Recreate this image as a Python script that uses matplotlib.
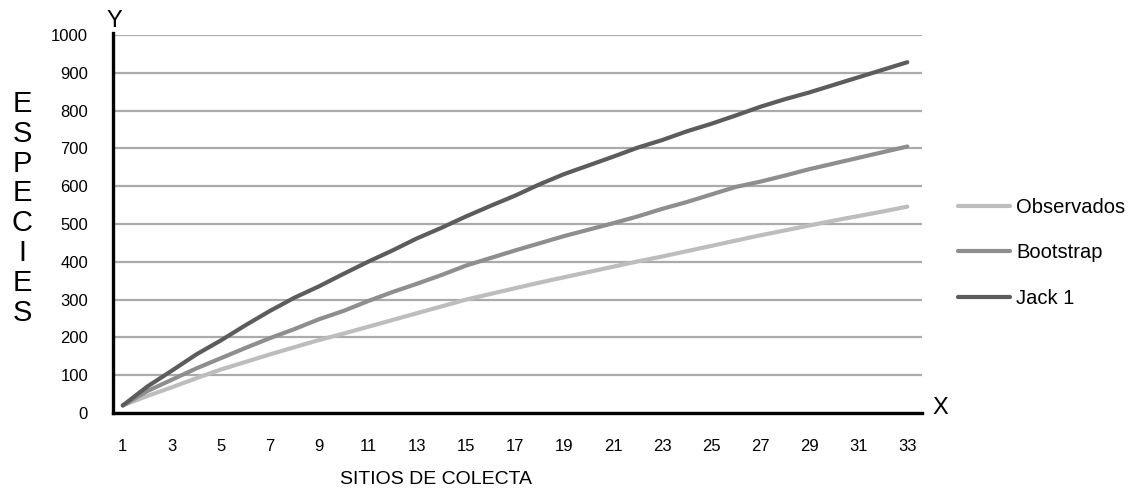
import matplotlib
matplotlib.use('Agg')
import matplotlib.pyplot as plt

plt.rcParams['font.family'] = ['Liberation Sans', 'DejaVu Sans']

# datos
sitios = list(range(1, 34))
observados = [20, 45, 68, 92, 115, 135, 155, 174, 193, 210, 228, 246, 264, 282, 300,
              315, 330, 345, 359, 373, 387, 401, 414, 428, 442, 456, 470, 483, 496,
              509, 521, 533, 546]
bootstrap = [20, 58, 88, 118, 145, 172, 198, 222, 248, 270, 296, 320, 342, 365, 390,
             410, 430, 449, 468, 485, 502, 520, 540, 558, 578, 598, 612, 628, 645,
             660, 675, 690, 705]
jack1 = [20, 70, 112, 155, 192, 232, 270, 305, 335, 368, 400, 430, 462, 490, 520,
         548, 575, 605, 632, 655, 678, 702, 722, 745, 765, 787, 810, 830, 848, 868,
         888, 908, 928]
x_ticks = list(range(1, 34, 2))
y_ticks = list(range(0, 1001, 100))

fig = plt.figure(figsize=(11.3, 4.93), dpi=100)
ax = fig.add_axes([113 / 1130, 1 - 413 / 493, (922 - 113) / 1130, (413 - 35) / 493])

ax.plot(sitios, observados, color='#bdbdbd', lw=3, label='Observados', solid_capstyle='round')
ax.plot(sitios, bootstrap, color='#8e8e8e', lw=3, label='Bootstrap', solid_capstyle='round')
ax.plot(sitios, jack1, color='#5c5c5c', lw=3, label='Jack 1', solid_capstyle='round')

ax.set_xlim(0.6, 33.6)
ax.set_ylim(0, 1000)
ax.set_xticks(x_ticks)
ax.set_yticks(y_ticks)
ax.tick_params(axis='both', length=0, labelsize=12)
ax.tick_params(axis='y', pad=18)
ax.tick_params(axis='x', pad=19)

ax.grid(axis='y', color='#ababab', lw=1.6)
ax.set_axisbelow(True)
for s in ['top', 'right']:
    ax.spines[s].set_visible(False)
for s in ['left', 'bottom']:
    ax.spines[s].set_linewidth(2.4)
    ax.spines[s].set_color('black')
ax.spines['left'].set_bounds(0, 1006)

fig.text(114 / 1130, 1 - 21 / 493, 'Y', fontsize=17, ha='center', va='center')
fig.text(940 / 1130, 1 - 408 / 493, 'X', fontsize=17, ha='center', va='center')
fig.text(436 / 1130, 1 - 480 / 493, 'SITIOS DE COLECTA', fontsize=14, ha='center', va='center')

for i, letra in enumerate('ESPECIES'):
    fig.text(22 / 1130, 1 - (104 + i * 29.8) / 493, letra, fontsize=21,
             ha='center', va='center')

ax.legend(loc='center left', bbox_to_anchor=(958 / 1130, 1 - 253 / 493),
          bbox_transform=fig.transFigure, frameon=False, fontsize=14.5,
          handlelength=2.6, handletextpad=0.3, labelspacing=1.3,
          borderpad=0, borderaxespad=0)

fig.savefig('out.png', dpi=100)
